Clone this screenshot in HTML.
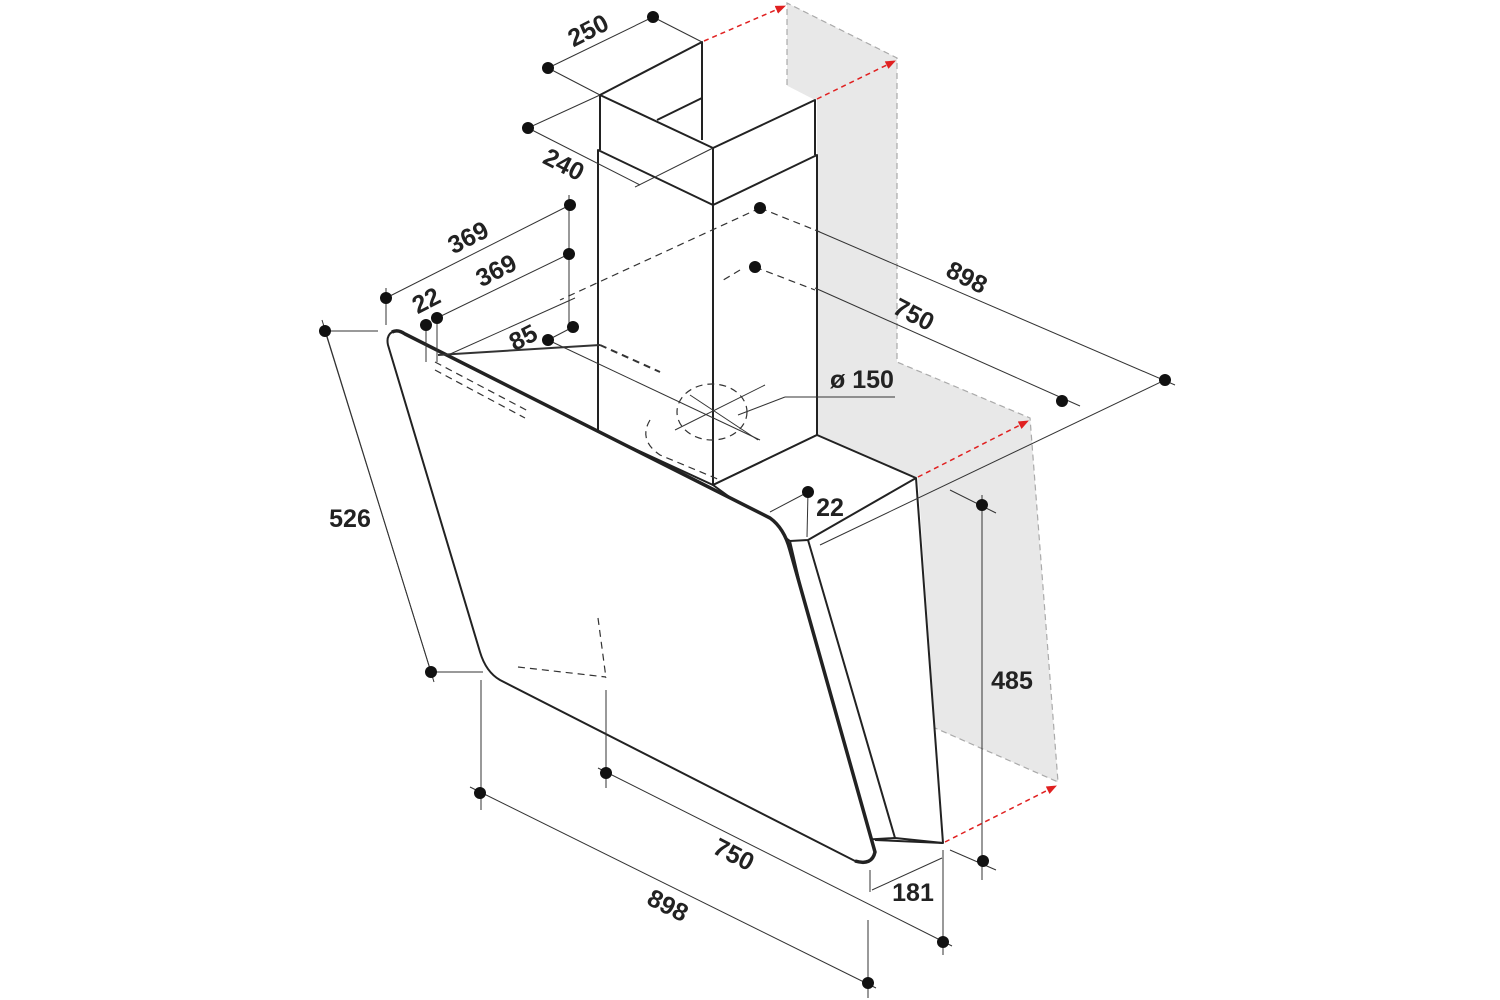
<!DOCTYPE html>
<html><head><meta charset="utf-8"><style>
html,body{margin:0;padding:0;background:#fff;}
svg{display:block;}
text{font-family:"Liberation Sans",sans-serif;font-weight:bold;font-size:25px;fill:#222;}
</style></head><body>
<svg width="1500" height="1000" viewBox="0 0 1500 1000" xmlns="http://www.w3.org/2000/svg">
<defs><marker id="ar" viewBox="0 0 10 10" refX="9" refY="5" markerWidth="7" markerHeight="7" orient="auto"><path d="M0,1 L10,5 L0,9 z" fill="#e02020"/></marker></defs>
<!-- grey wall -->
<polygon points="787,3 897,58 897,362 1030,418 1058,782 935,728 918,478 817,435 817,100 787,112" fill="#e8e8e8"/>
<g stroke="#aaa" stroke-width="1.2" stroke-dasharray="6,4" fill="none">
<polyline points="787,105 787,3 897,58 897,362 1030,418 1058,782 935,728"/>
</g>
<!-- chimney -->
<polygon points="600,95 702,42 815,100 815,155 713,205 598,150" fill="#fff"/>
<g stroke="#222" stroke-width="2" fill="none" stroke-linejoin="round">
<polygon points="598,150 713,205 817,155 817,435 713,485 598,432" fill="#fff"/>
<polyline points="600,150 600,95 702,42 702,140"/>
<polyline points="600,95 713,148 815,100 815,155"/>
<line x1="713" y1="148" x2="713" y2="485"/>
<line x1="657" y1="120" x2="702" y2="98"/>
</g>
<!-- hood side / top -->
<g stroke="#222" stroke-width="2" fill="#fff" stroke-linejoin="round">
<polygon points="713,485 817,435 916,478 943,843 895,838 860,840 790,541"/>
<polyline points="790,541 808,540 916,478" fill="none"/>
<line x1="808" y1="540" x2="895" y2="838"/>
<line x1="875" y1="840" x2="943" y2="843"/>
</g>
<!-- glass panel -->
<path d="M392,332 Q386,336 388,345 L480,652 Q486,672 500,680 L855,861 Q872,866 875,852 L790,550 Q784,528 770,518 L405,334 Q396,329 392,332 Z" fill="#fff" stroke="#222" stroke-width="2"/>
<path d="M392,332 Q398,329 405,334 L770,518 Q784,528 790,550 L875,852 Q872,866 855,861" fill="none" stroke="#222" stroke-width="3.5"/>
<!-- hidden dashed lines -->
<g stroke="#333" stroke-width="1.2" fill="none" stroke-dasharray="7,5">
<line x1="600" y1="345" x2="660" y2="372" stroke-width="2"/>
<line x1="435" y1="362" x2="530" y2="412"/>
<line x1="435" y1="370" x2="525" y2="418"/>
<line x1="598" y1="618" x2="606" y2="678"/>
<line x1="518" y1="667" x2="606" y2="677"/>
<line x1="760" y1="208" x2="560" y2="300"/>
<line x1="760" y1="208" x2="820" y2="232"/>
<line x1="755" y1="267" x2="815" y2="290"/>
<line x1="740" y1="270" x2="720" y2="282"/>
<ellipse cx="712" cy="412" rx="35" ry="28"/>
<path d="M650,420 Q638,440 660,455 L720,480"/>
</g>
<!-- dimension lines -->
<g stroke="#333" stroke-width="1" fill="none">
<line x1="548" y1="68" x2="653" y2="17"/><line x1="653" y1="17" x2="702" y2="42"/><line x1="548" y1="68" x2="600" y2="95"/>
<line x1="528" y1="128" x2="600" y2="95"/><line x1="528" y1="128" x2="640" y2="185"/><line x1="635" y1="187" x2="713" y2="148"/>
<line x1="386" y1="298" x2="570" y2="205"/><line x1="437" y1="318" x2="569" y2="254"/>
<line x1="569" y1="195" x2="569" y2="327"/><line x1="386" y1="288" x2="386" y2="325"/>
<line x1="426" y1="325" x2="426" y2="362"/><line x1="437" y1="318" x2="437" y2="362"/>
<line x1="448" y1="355" x2="575" y2="298"/>
<line x1="438" y1="355" x2="600" y2="345" stroke-width="2"/>
<line x1="548" y1="340" x2="760" y2="440"/>
<line x1="548" y1="340" x2="573" y2="327"/>
<line x1="325" y1="331" x2="378" y2="331"/><line x1="431" y1="672" x2="483" y2="672"/>
<line x1="325" y1="331" x2="431" y2="672"/><line x1="322" y1="320" x2="434" y2="682"/>
<line x1="481" y1="680" x2="481" y2="810"/><line x1="606" y1="690" x2="606" y2="788"/>
<line x1="470" y1="787" x2="876" y2="988"/><line x1="598" y1="768" x2="952" y2="946"/>
<line x1="868" y1="920" x2="868" y2="998"/><line x1="943" y1="850" x2="943" y2="955"/>
<line x1="870" y1="870" x2="870" y2="892"/><line x1="872" y1="890" x2="942" y2="858"/>
<line x1="982" y1="495" x2="982" y2="880"/>
<line x1="950" y1="490" x2="996" y2="513"/><line x1="950" y1="850" x2="996" y2="870"/>
<line x1="815" y1="230" x2="1175" y2="385"/><line x1="1165" y1="380" x2="820" y2="545"/>
<line x1="815" y1="288" x2="1080" y2="406"/>
<line x1="808" y1="492" x2="770" y2="512"/><line x1="808" y1="492" x2="807" y2="537"/>
<line x1="738" y1="415" x2="785" y2="397"/><line x1="785" y1="397" x2="895" y2="397"/>
<line x1="675" y1="430" x2="765" y2="385"/><line x1="690" y1="395" x2="758" y2="440"/>
</g>
<g fill="#111">
<circle cx="548" cy="68" r="6"/><circle cx="653" cy="17" r="6"/><circle cx="528" cy="128" r="6"/>
<circle cx="570" cy="205" r="6"/><circle cx="569" cy="254" r="6"/><circle cx="573" cy="327" r="6"/>
<circle cx="386" cy="298" r="6"/><circle cx="437" cy="318" r="6"/><circle cx="426" cy="325" r="6"/>
<circle cx="548" cy="340" r="6"/><circle cx="325" cy="331" r="6"/><circle cx="431" cy="672" r="6"/>
<circle cx="760" cy="208" r="6"/><circle cx="755" cy="267" r="6"/><circle cx="1062" cy="401" r="6"/><circle cx="1165" cy="380" r="6"/>
<circle cx="808" cy="492" r="6"/><circle cx="982" cy="505" r="6"/><circle cx="983" cy="861" r="6"/>
<circle cx="480" cy="793" r="6"/><circle cx="606" cy="773" r="6"/><circle cx="943" cy="942" r="6"/><circle cx="868" cy="983" r="6"/>
</g>
<!-- red arrows -->
<g stroke="#e02020" stroke-width="1.5" stroke-dasharray="5,4" fill="none" marker-end="url(#ar)">
<line x1="704" y1="41" x2="785" y2="6"/><line x1="817" y1="99" x2="895" y2="61"/>
<line x1="918" y1="477" x2="1028" y2="421"/><line x1="945" y1="842" x2="1056" y2="786"/>
</g>
<!-- labels -->
<text x="592" y="38" transform="rotate(-27 592 38)" text-anchor="middle">250</text>
<text x="560" y="172" transform="rotate(27 560 172)" text-anchor="middle">240</text>
<text x="472" y="245" transform="rotate(-27 472 245)" text-anchor="middle">369</text>
<text x="500" y="278" transform="rotate(-27 500 278)" text-anchor="middle">369</text>
<text x="430" y="308" transform="rotate(-27 430 308)" text-anchor="middle">22</text>
<text x="527" y="345" transform="rotate(-27 527 345)" text-anchor="middle">85</text>
<text x="350" y="527" text-anchor="middle">526</text>
<text x="963" y="285" transform="rotate(27 963 285)" text-anchor="middle">898</text>
<text x="910" y="322" transform="rotate(27 910 322)" text-anchor="middle">750</text>
<text x="862" y="388" text-anchor="middle">ø 150</text>
<text x="830" y="516" text-anchor="middle">22</text>
<text x="1012" y="689" text-anchor="middle">485</text>
<text x="730" y="862" transform="rotate(27 730 862)" text-anchor="middle">750</text>
<text x="664" y="913" transform="rotate(27 664 913)" text-anchor="middle">898</text>
<text x="913" y="901" text-anchor="middle">181</text>
</svg>
</body></html>
